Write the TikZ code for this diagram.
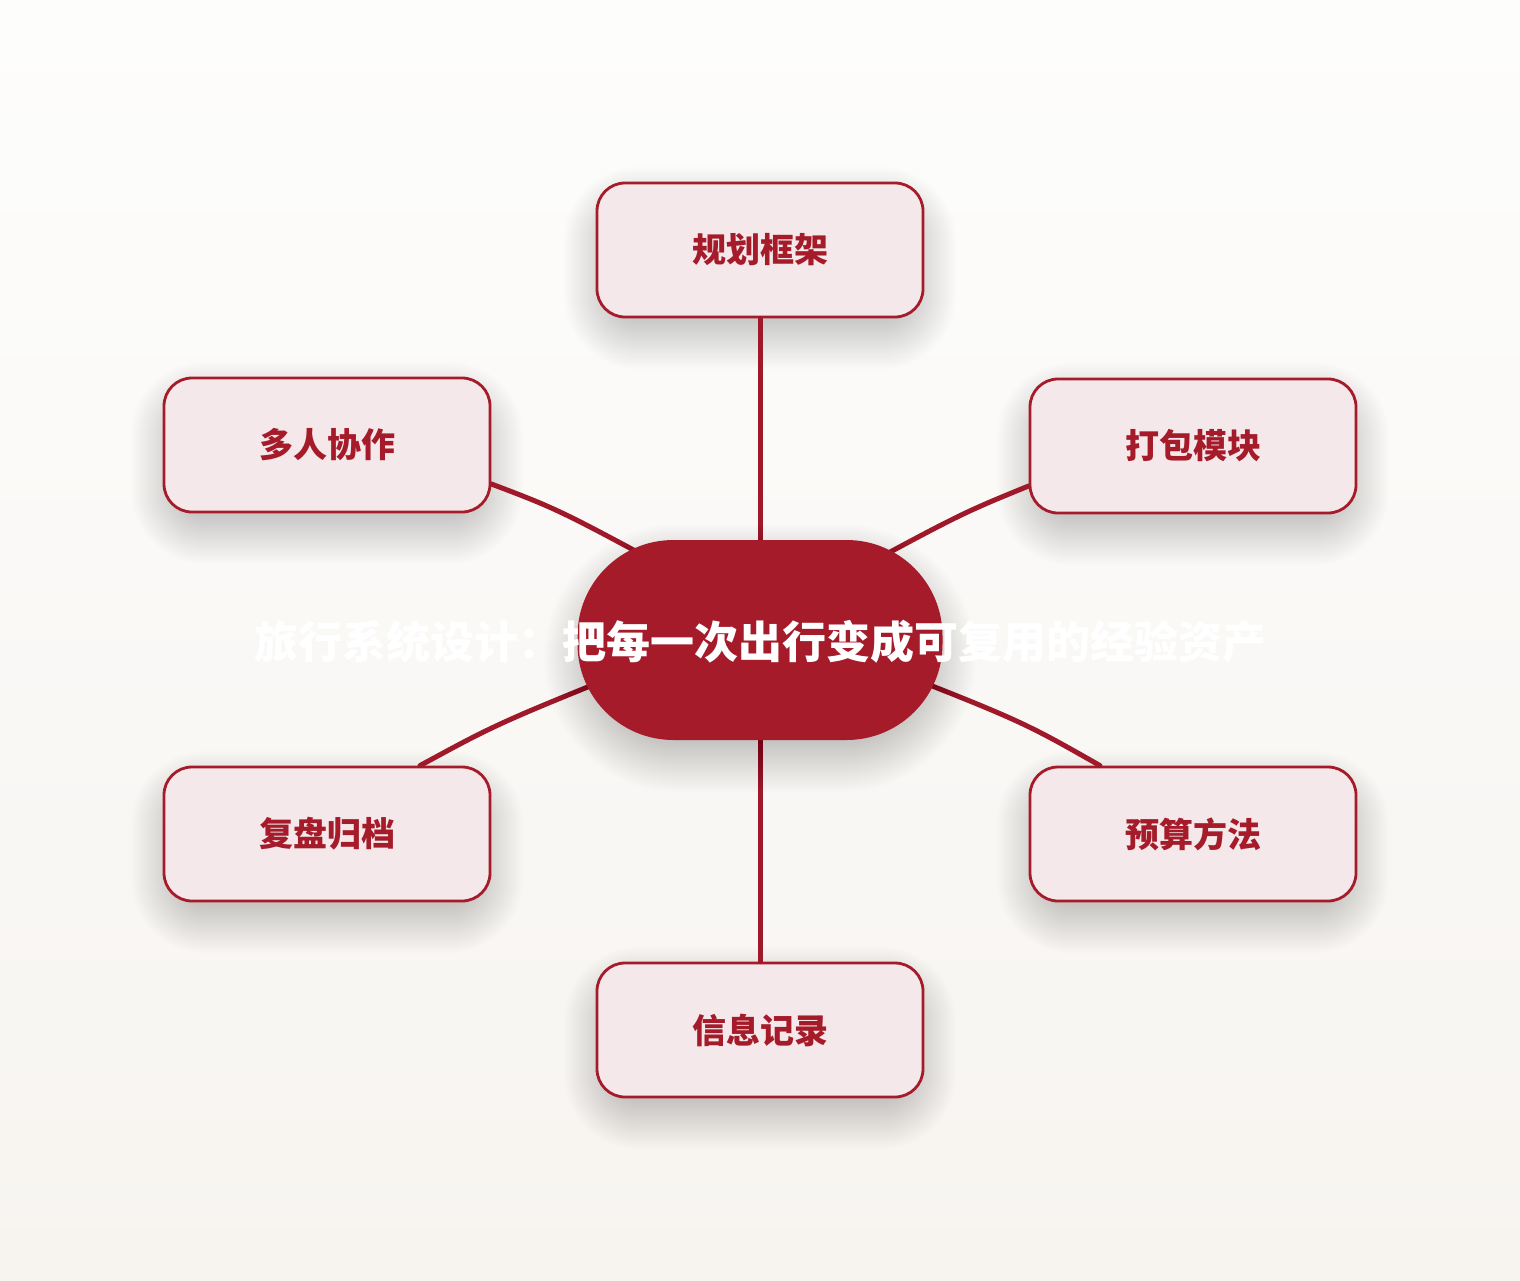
\documentclass[tikz,border=0pt]{standalone}
\usepackage{fontspec}
\newfontfamily\cjk{Noto Sans CJK SC}
\usetikzlibrary{calc}
\definecolor{brand}{HTML}{A51B2A}
\definecolor{linkred}{HTML}{A0192A}
\definecolor{boxfill}{HTML}{F4E8EB}
\definecolor{bgtop}{HTML}{FDFDFC}
\definecolor{bgbot}{HTML}{F7F4F0}
\tikzset{
  leaf/.style={draw=brand, line width=2.8pt, fill=boxfill, rounded corners=28pt,
    minimum width=326pt, minimum height=134pt, inner sep=0pt,
    text=brand, font=\cjk\bfseries\fontsize{34}{40}\selectfont},
  hub/.style={fill=brand, rounded corners=96pt, minimum width=365pt, minimum height=200pt, inner sep=0pt},
  hubtext/.style={text=white, font=\cjk\bfseries\fontsize{44}{52}\selectfont, inner sep=0pt},
  link/.style={draw=linkred, line width=5pt, line cap=round},
  shadowlayer/.style={fill=black, opacity=0.0075}
}
% #1 x, #2 y, #3 half width, #4 half height, #5 corner radius, #6 y shift
\newcommand\mysoftshadow[6]{%
  \foreach \rr in {-4,-2,...,46}{%
    \pgfmathsetmacro\rc{max(#5+\rr,2)}%
    \fill[shadowlayer, rounded corners=\rc pt]
      (#1-#3-\rr, #2-#4-\rr+#6) rectangle (#1+#3+\rr, #2+#4+\rr+#6);
  }%
}
\begin{document}
\begin{tikzpicture}[x=1pt,y=-1pt]
\shade[top color=bgtop, bottom color=bgbot] (0,0) rectangle (1520,1280);
\useasboundingbox (0,0) rectangle (1520,1280);
\mysoftshadow{760}{250}{150}{55}{28}{18}
\mysoftshadow{327}{445}{150}{55}{28}{18}
\mysoftshadow{1193}{446}{150}{55}{28}{18}
\mysoftshadow{327}{834}{150}{55}{28}{18}
\mysoftshadow{1193}{834}{150}{55}{28}{18}
\mysoftshadow{760}{1030}{150}{55}{28}{18}
\node[leaf] (n1) at (760,250) {规划框架};
\node[leaf] (n2) at (327,445) {多人协作};
\node[leaf] (n3) at (1193,446) {打包模块};
\node[leaf] (n4) at (327,834) {复盘归档};
\node[leaf] (n5) at (1193,834) {预算方法};
\node[leaf] (n6) at (760,1030) {信息记录};
\coordinate (k1) at (760,600);
\coordinate (k2) at (700,586);
\coordinate (k3) at (820,590);
\coordinate (k4) at (680,650);
\coordinate (k5) at (840,650);
\coordinate (k6) at (760,680);
\draw[link] (n1.south) -- (k1);
\draw[link] ($(n2.east)+(0,39)$) .. controls (560,510) .. (k2);
\draw[link] ($(n3.west)+(0,40)$) .. controls (960,514) .. (k3);
\draw[link] ($(n4.north)+(93,0)$) .. controls (500,722) .. (k4);
\draw[link] ($(n5.north)+(-93,0)$) .. controls (1020,720) .. (k5);
\draw[link] (n6.north) -- (k6);
\mysoftshadow{760}{640}{170}{88}{88}{18}
\node[hub] (c) at (760,640) {};
\node[hubtext] (ct) at (760,642) {旅行系统设计：把每一次出行变成可复用的经验资产};
\end{tikzpicture}
\end{document}
